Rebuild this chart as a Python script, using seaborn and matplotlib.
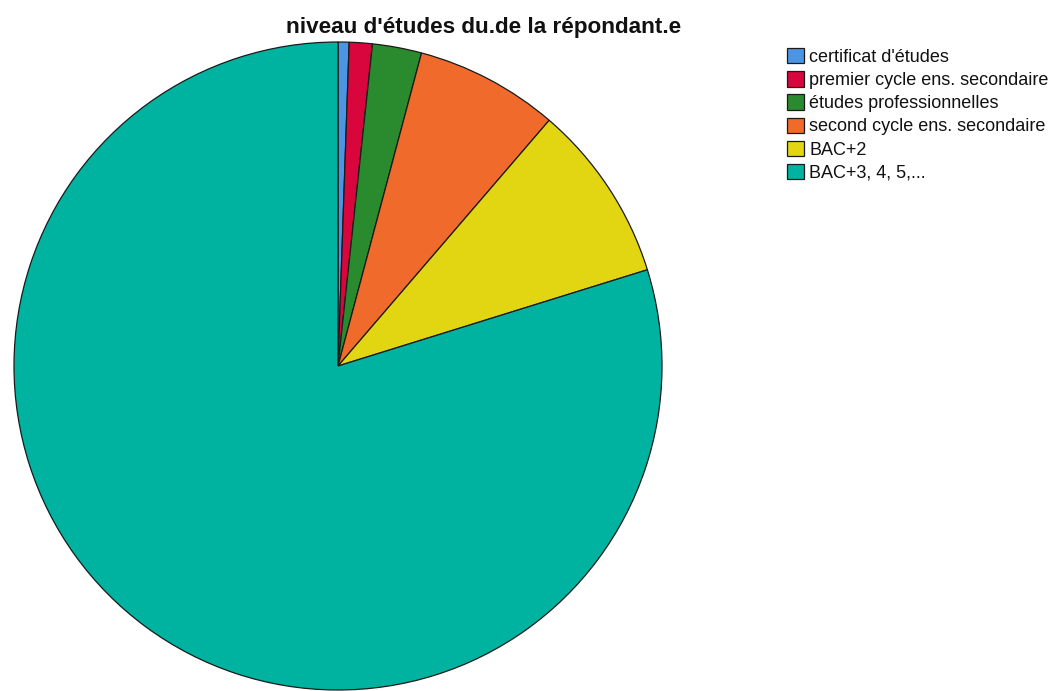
import matplotlib
matplotlib.use("Agg")
import matplotlib.pyplot as plt
import seaborn as sns

# Data (percent of respondents)
categories = [
    "certificat d'études",
    "premier cycle ens. secondaire",
    "études professionnelles",
    "second cycle ens. secondaire",
    "BAC+2",
    "BAC+3, 4, 5,...",
]
shares = [0.55, 1.15, 2.45, 7.15, 8.9, 79.8]
slice_colors = ["#4c95e3", "#d8063c", "#2a8a2e", "#f06a2c", "#e2d512", "#00b3a0"]
title = "niveau d'études du.de la répondant.e"

sns.set_theme(style="white")
plt.rcParams["font.family"] = ["Liberation Sans", "DejaVu Sans"]

W, H = 1061, 691
fig = plt.figure(figsize=(W / 100, H / 100), dpi=100)
fig.patch.set_facecolor("white")

# pie centre ~ (338, 366) px, radius ~324 px
cx, cy, r = 338, 366, 324
ax = fig.add_axes([(cx - r) / W, (H - cy - r) / H, 2 * r / W, 2 * r / H])
wedges, _ = ax.pie(
    shares,
    colors=slice_colors,
    startangle=90,
    counterclock=False,
    radius=1,
    wedgeprops=dict(edgecolor="#1a1a1a", linewidth=0.9),
)
ax.set_xlim(-1, 1)
ax.set_ylim(-1, 1)
ax.set_aspect("auto")
ax.axis("off")

fig.text(484 / W, 1 - 27 / H, title, ha="center", va="center",
         fontsize=16.2, fontweight="bold", color="#111111")

leg = fig.legend(
    wedges, categories,
    loc="upper left",
    bbox_to_anchor=(787 / W, 1 - 48 / H),
    frameon=False,
    fontsize=13,
    handlelength=0.94,
    handleheight=0.94,
    handletextpad=0.3,
    labelspacing=0.29,
    borderpad=0,
    borderaxespad=0,
)
for t in leg.get_texts():
    t.set_color("#111111")

fig.savefig("out.png", dpi=100)
